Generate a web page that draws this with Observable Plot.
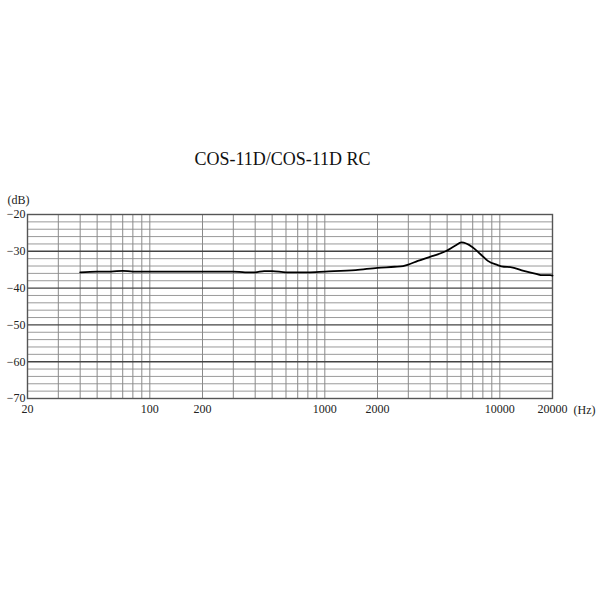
<!DOCTYPE html>
<html>
<head>
<meta charset="utf-8">
<script src="https://cdn.jsdelivr.net/npm/d3@7"></script>
<script src="https://cdn.jsdelivr.net/npm/@observablehq/plot@0.6"></script>
<style>
  body { margin: 0; background: #fff; }
  svg { display: block; }
</style>
</head>
<body>
<div id="chart"></div>
<script>
const title = "COS-11D/COS-11D RC";
const freqs = [40, 50, 60, 70, 80, 100, 200, 300, 350, 400, 450, 500, 600, 800, 1000, 1500, 2000, 2500, 2800, 3000, 3400, 3760, 4200, 4900, 5550, 6040, 6950, 7760, 8540, 9660, 10570, 11500, 13700, 16350, 17400, 19400, 20000];
const levels = [-35.7, -35.5, -35.5, -35.3, -35.5, -35.5, -35.5, -35.5, -35.7, -35.7, -35.4, -35.4, -35.7, -35.7, -35.5, -35.1, -34.5, -34.2, -34.0, -33.6, -32.6, -31.9, -31.2, -30.0, -28.5, -27.6, -28.8, -30.8, -32.6, -33.7, -34.2, -34.3, -35.3, -36.2, -36.5, -36.5, -36.6];
const xTicks = [20, 100, 200, 1000, 2000, 10000, 20000];
const xGrid = [30, 40, 50, 60, 70, 80, 90, 100, 200, 300, 400, 500, 600, 700, 800, 900, 1000, 2000, 3000, 4000, 5000, 6000, 7000, 8000, 9000, 10000];
const yTicks = [-20, -30, -40, -50, -60, -70];
const yMajor = [-30, -40, -50, -60];
const yMinor = [-22, -24, -26, -28, -32, -34, -36, -38, -42, -44, -46, -48, -52, -54, -56, -58, -62, -64, -66, -68];

const data = freqs.map((f, i) => ({f, db: levels[i]}));

const serif = "'Liberation Serif', 'DejaVu Serif', serif";

const chart = Plot.plot({
  width: 600,
  height: 600,
  marginLeft: 27,
  marginRight: 48,
  marginTop: 214,
  marginBottom: 202,
  style: {fontFamily: serif, fontSize: "12px", color: "#222", background: "#fff"},
  x: {type: "log", domain: [20, 20000], ticks: xTicks, tickFormat: d => String(d), tickSize: 0, tickPadding: 6, label: null},
  y: {domain: [-70, -20], ticks: yTicks, tickFormat: d => "\u2212" + Math.abs(d), tickSize: 0, tickPadding: 2, label: null},
  marks: [
    Plot.ruleY(yMinor, {stroke: "#9a9a9a", strokeWidth: 1}),
    Plot.ruleX(xGrid, {stroke: "#8a8a8a", strokeWidth: 1}),
    Plot.ruleY(yMajor, {stroke: "#444", strokeWidth: 1.4}),
    Plot.frame({stroke: "#555", strokeWidth: 1.4}),
    Plot.line(data, {x: "f", y: "db", stroke: "#000", strokeWidth: 1.8, curve: "monotone-x"}),
    Plot.text(["(dB)"], {frameAnchor: "top-left", dx: -20, dy: -14, textAnchor: "start", lineAnchor: "middle", fontSize: 12, fill: "#222"}),
    Plot.text(["(Hz)"], {frameAnchor: "bottom-right", dx: 21, dy: 12, textAnchor: "start", lineAnchor: "middle", fontSize: 12, fill: "#222"}),
    Plot.text([title], {frameAnchor: "top", dx: -7.5, dy: -55, lineAnchor: "middle", fontSize: 18, fill: "#111"})
  ]
});
document.getElementById("chart").appendChild(chart);
</script>
</body>
</html>
